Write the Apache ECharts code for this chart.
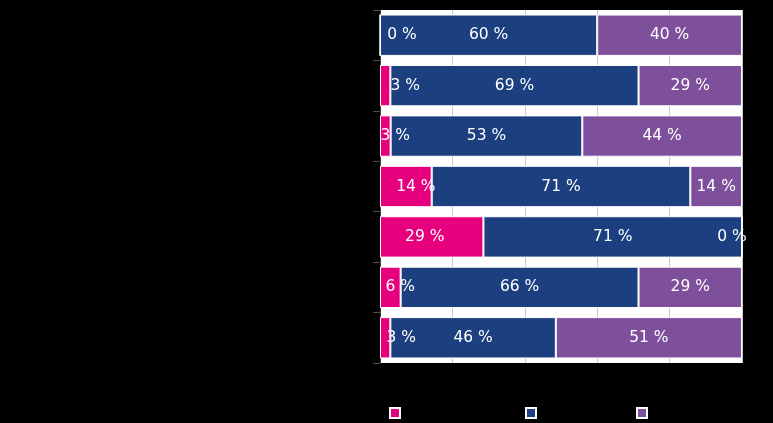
<!DOCTYPE html>
<html>
<head>
<meta charset="utf-8">
<script src="https://cdn.jsdelivr.net/npm/echarts@6/dist/echarts.min.js"></script>
<style>
html,body{margin:0;padding:0;background:#000;}
#chart{width:773px;height:423px;}
</style>
</head>
<body>
<div id="chart"></div>
<script>
// Categories (labels are drawn in black on black in the reference, unreadable)
const categories = ['Kategori 1', 'Kategori 2', 'Kategori 3', 'Kategori 4', 'Kategori 5', 'Kategori 6', 'Kategori 7'];
const seriesNames = ['Serie 1', 'Serie 2', 'Serie 3'];
// Shares in percent (top to bottom)
const pinkValues   = [0,    2.86, 2.94, 14.29, 28.57, 5.71, 2.86];
const blueValues   = [60,   68.57, 52.94, 71.43, 71.43, 65.71, 45.71];
const purpleValues = [40,   28.57, 44.12, 14.29, 0,    28.57, 51.43];
const xTicks = [0, 20, 40, 60, 80, 100];

// label nudges (style only)
const pinkLabelNudge = [22, 20, 10, 10, -7, 10, 16];
const purpleLabelNudge = [0, 0, 0, 0, -10, 0, 0];

const colors = ['#E6007E', '#1B3F7F', '#7E509C'];
const labelBase = {
  show: true,
  position: 'inside',
  color: '#fff',
  fontFamily: 'DejaVu Sans',
  fontSize: 15.5,
  formatter: p => Math.round(p.value) + ' %'
};

function mk(name, values, color, nudge) {
  return {
    name: name,
    type: 'bar',
    stack: 'total',
    barCategoryGap: '18%',
    itemStyle: { color: color, borderColor: '#fff', borderWidth: 1 },
    label: labelBase,
    data: values.map((v, i) => nudge ? { value: v, label: { offset: [nudge[i], 0] } } : v)
  };
}

const chart = echarts.init(document.getElementById('chart'), null, { renderer: 'canvas' });
const legendBase = {
  top: 402, icon: 'rect', itemWidth: 10, itemHeight: 10,
  textStyle: { color: '#000', fontFamily: 'DejaVu Sans', fontSize: 12 }
};
chart.setOption({
  backgroundColor: '#000',
  animation: false,
  grid: {
    left: 380, top: 10, width: 362, height: 353,
    show: true, backgroundColor: '#fff', borderWidth: 0
  },
  legend: [
    Object.assign({ left: 384, data: [seriesNames[0]] }, legendBase),
    Object.assign({ left: 520, data: [seriesNames[1]] }, legendBase),
    Object.assign({ left: 631, data: [seriesNames[2]] }, legendBase)
  ],
  xAxis: {
    type: 'value', min: xTicks[0], max: xTicks[xTicks.length - 1], interval: 20,
    axisLine: { show: false }, axisTick: { show: false },
    axisLabel: { color: '#000', formatter: v => v + ' %' },
    splitLine: { show: true, lineStyle: { color: '#C8C8C8', width: 1 } }
  },
  yAxis: {
    type: 'category', data: categories, inverse: true,
    axisLine: { show: true, lineStyle: { color: '#404040' } },
    axisTick: { show: true, length: 7, lineStyle: { color: '#505050' } },
    axisLabel: { color: '#000' }
  },
  series: [
    mk(seriesNames[0], pinkValues, colors[0], pinkLabelNudge),
    mk(seriesNames[1], blueValues, colors[1], null),
    mk(seriesNames[2], purpleValues, colors[2], purpleLabelNudge)
  ]
});
</script>
</body>
</html>
